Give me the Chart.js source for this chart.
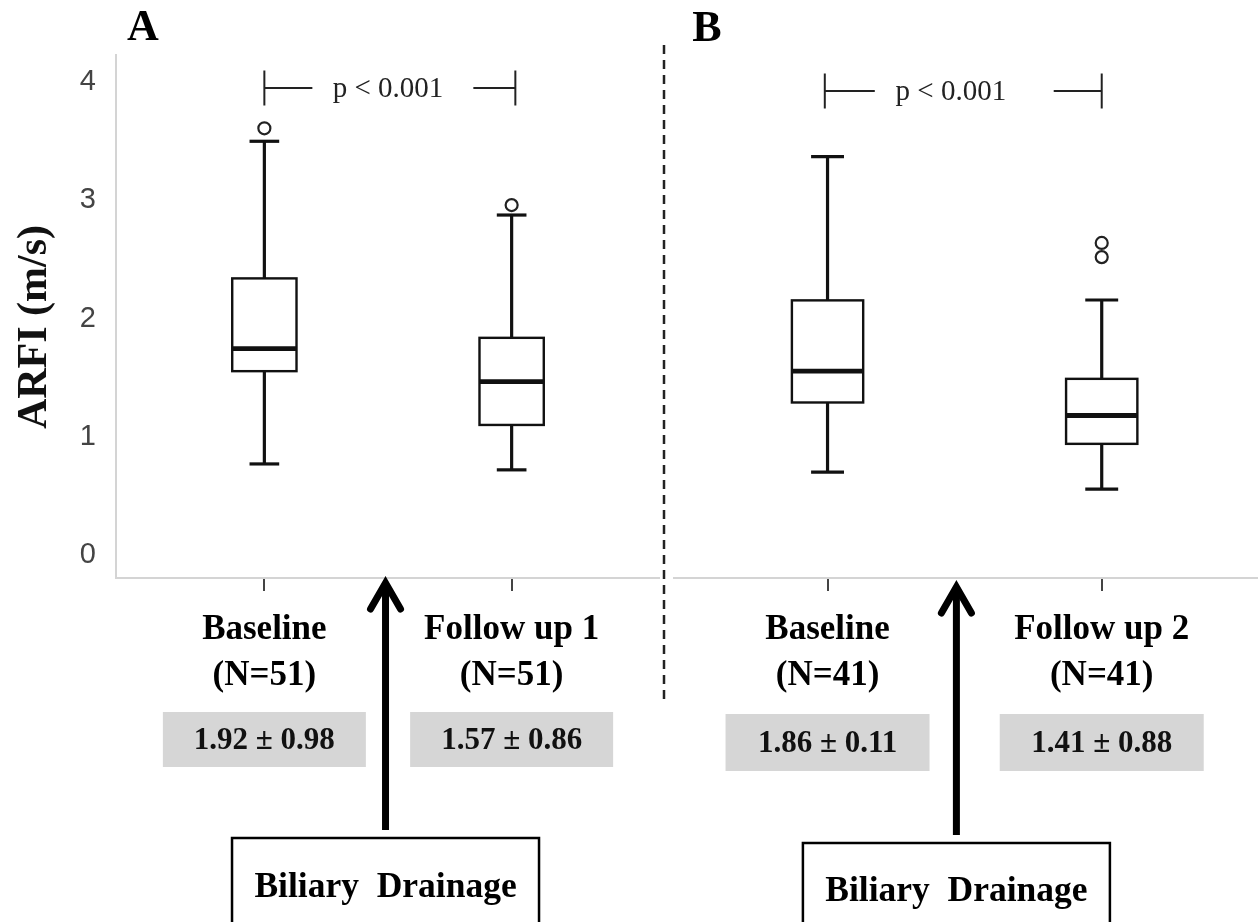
<!DOCTYPE html>
<html>
<head>
<meta charset="utf-8">
<title>ARFI before and after biliary drainage</title>
<script src="https://cdn.jsdelivr.net/npm/chart.js@4.4.1/dist/chart.umd.min.js"></script>
<style>
  html, body { margin: 0; padding: 0; background: #ffffff; }
  #wrap { position: relative; width: 1258px; height: 922px; overflow: hidden; background: #ffffff; }
  #wrap canvas { position: absolute; top: 0; }
  #cA { left: 0; }
  #cB { left: 660px; }
</style>
</head>
<body>
<div id="wrap">
  <canvas id="cA" width="660" height="922"></canvas>
  <canvas id="cB" width="598" height="922"></canvas>
</div>
<script>
// ---- data -------------------------------------------------------------
const tickValues = [0, 1, 2, 3, 4];
const yAxisTitle = 'ARFI (m/s)';
const interventionLabel = 'Biliary  Drainage';

// Panel A: baseline vs first follow-up
const groupsA = ['Baseline', 'Follow up 1'];
const countsA = [51, 51];
const whiskerLowA = [0.77, 0.72];
const q1A = [1.555, 1.10];
const medianA = [1.745, 1.467];
const q3A = [2.34, 1.837];
const whiskerHighA = [3.50, 2.876];
const outliersA = [[3.61], [2.96]];
const meanA = [1.92, 1.57];
const sdA = [0.98, 0.86];
const pLabelA = 'p < 0.001';

// Panel B: baseline vs second follow-up
const groupsB = ['Baseline', 'Follow up 2'];
const countsB = [41, 41];
const whiskerLowB = [0.70, 0.557];
const q1B = [1.29, 0.94];
const medianB = [1.555, 1.18];
const q3B = [2.154, 1.49];
const whiskerHighB = [3.37, 2.157];
const outliersB = [[], [2.64, 2.52]];
const meanB = [1.86, 1.41];
const sdB = [0.11, 0.88];
const pLabelB = 'p < 0.001';

// ---- drawing helpers --------------------------------------------------
const SERIF = '"Liberation Serif", "Times New Roman", serif';
const SANS = '"Liberation Sans", Arial, sans-serif';

function strokeLine(ctx, x1, y1, x2, y2) {
  ctx.beginPath();
  ctx.moveTo(x1, y1);
  ctx.lineTo(x2, y2);
  ctx.stroke();
}

// Boxes, whiskers and medians, placed through the chart's own scales
const boxPlotPlugin = {
  id: 'boxPlot',
  beforeDatasetsDraw(chart, args, opts) {
    const { ctx, scales: { x, y } } = chart;
    const s = opts.stats;
    ctx.save();
    ctx.strokeStyle = '#111';
    s.median.forEach((m, i) => {
      const pos = i + 1;
      const cx = x.getPixelForValue(pos);
      const half = x.getPixelForValue(pos + opts.boxWidth / 2) - cx;
      const capHalf = x.getPixelForValue(pos + opts.capWidth / 2) - cx;
      const pLo = y.getPixelForValue(s.low[i]);
      const pQ1 = y.getPixelForValue(s.q1[i]);
      const pMed = y.getPixelForValue(m);
      const pQ3 = y.getPixelForValue(s.q3[i]);
      const pHi = y.getPixelForValue(s.high[i]);

      ctx.lineCap = 'butt';
      ctx.lineWidth = 3.2;
      strokeLine(ctx, cx, pQ3, cx, pHi);
      strokeLine(ctx, cx, pQ1, cx, pLo);
      strokeLine(ctx, cx - capHalf, pHi, cx + capHalf, pHi);
      strokeLine(ctx, cx - capHalf, pLo, cx + capHalf, pLo);

      ctx.fillStyle = '#ffffff';
      ctx.fillRect(cx - half, pQ3, half * 2, pQ1 - pQ3);
      ctx.lineWidth = 2.4;
      ctx.strokeRect(cx - half, pQ3, half * 2, pQ1 - pQ3);

      ctx.lineWidth = 4.8;
      strokeLine(ctx, cx - half, pMed, cx + half, pMed);
    });
    ctx.restore();
  }
};

// Panel letter, significance bracket, mean ± SD boxes and the drainage marker
const annotationPlugin = {
  id: 'panelNotes',
  afterDraw(chart, args, o) {
    const { ctx, scales: { x } } = chart;
    ctx.save();
    ctx.textAlign = 'center';
    ctx.textBaseline = 'middle';

    // panel letter
    ctx.fillStyle = '#000';
    ctx.font = 'bold 44px ' + SERIF;
    ctx.fillText(o.letter.text, o.letter.x, o.letter.y);

    // separator between panels
    if (o.separator) {
      ctx.strokeStyle = '#222';
      ctx.lineWidth = 2.5;
      ctx.setLineDash([9, 6]);
      strokeLine(ctx, o.separator.x, o.separator.y1, o.separator.x, o.separator.y2);
      ctx.setLineDash([]);
    }

    // significance bracket
    const b = o.bracket;
    const bx1 = x.getPixelForValue(b.from);
    const bx2 = x.getPixelForValue(b.to);
    ctx.strokeStyle = '#222';
    ctx.lineWidth = 2;
    strokeLine(ctx, bx1, b.y - b.tick, bx1, b.y + b.tick);
    strokeLine(ctx, bx2, b.y - b.tick, bx2, b.y + b.tick);
    strokeLine(ctx, bx1, b.y, bx1 + b.armLeft, b.y);
    strokeLine(ctx, bx2 - b.armRight, b.y, bx2, b.y);
    ctx.fillStyle = '#222';
    ctx.font = '29px ' + SERIF;
    ctx.fillText(o.pLabel, x.getPixelForValue(b.textAt), b.y + 1);

    // mean ± SD boxes under each group
    const st = o.statBox;
    o.means.forEach((m, i) => {
      const cx = x.getPixelForValue(i + 1);
      ctx.fillStyle = '#d6d6d6';
      ctx.fillRect(cx - st.width / 2, st.top, st.width, st.height);
      ctx.fillStyle = '#111';
      ctx.font = 'bold 31px ' + SERIF;
      ctx.fillText(m.toFixed(2) + ' \u00B1 ' + o.sds[i].toFixed(2), cx, st.top + st.height / 2 + 1);
    });

    // drainage arrow and label box
    const d = o.drainage;
    const ax = x.getPixelForValue(d.at);
    ctx.strokeStyle = '#000';
    ctx.lineWidth = 7;
    ctx.lineCap = 'butt';
    strokeLine(ctx, ax, d.arrowBottom, ax, d.arrowTip + 6);
    ctx.lineJoin = 'miter';
    ctx.lineCap = 'round';
    ctx.beginPath();
    ctx.moveTo(ax - d.headHalf, d.arrowTip + d.headLen);
    ctx.lineTo(ax, d.arrowTip + 4);
    ctx.lineTo(ax + d.headHalf, d.arrowTip + d.headLen);
    ctx.stroke();

    ctx.lineWidth = 2.5;
    ctx.lineCap = 'butt';
    ctx.strokeRect(ax - d.boxWidth / 2, d.boxTop, d.boxWidth, 120);
    ctx.fillStyle = '#000';
    ctx.font = 'bold 35.5px ' + SERIF;
    ctx.fillText(interventionLabel, ax, d.textY);
    ctx.restore();
  }
};

function makePanel(canvasId, p) {
  const outlierPoints = [];
  p.outliers.forEach((list, i) => list.forEach(v => outlierPoints.push({ x: i + 1, y: v })));

  return new Chart(document.getElementById(canvasId), {
    type: 'scatter',
    data: {
      datasets: [{
        label: 'Outliers',
        data: outlierPoints,
        pointStyle: 'circle',
        pointRadius: 6,
        pointHoverRadius: 6,
        pointBorderWidth: 2.2,
        borderColor: '#222',
        backgroundColor: '#ffffff'
      }]
    },
    options: {
      responsive: false,
      animation: false,
      devicePixelRatio: 1,
      layout: { autoPadding: false, padding: { top: 55, left: p.padLeft, right: 0, bottom: 0 } },
      plugins: {
        legend: { display: false },
        tooltip: { enabled: false },
        boxPlot: {
          boxWidth: 0.26,
          capWidth: 0.12,
          stats: { low: p.low, q1: p.q1, median: p.median, q3: p.q3, high: p.high }
        },
        panelNotes: p.notes
      },
      scales: {
        x: {
          type: 'linear',
          min: p.xMin,
          max: p.xMax,
          afterBuildTicks: s => { s.ticks = p.groups.map((g, i) => ({ value: i + 1 })); },
          afterFit: s => { s.height = 344; },
          ticks: {
            autoSkip: false,
            maxRotation: 0,
            padding: 16,
            color: '#000',
            font: { family: SERIF, size: 35, weight: 'bold', lineHeight: 1.32 },
            callback: v => [p.groups[v - 1], '(N=' + p.counts[v - 1] + ')']
          },
          grid: { display: true, drawOnChartArea: false, drawTicks: true, tickLength: 13, color: '#444', lineWidth: 2 },
          border: { display: true, color: '#d4d4d4', width: 2 }
        },
        y: {
          type: 'linear',
          display: p.showY,
          min: -0.195,
          max: 4.23,
          afterBuildTicks: s => { s.ticks = tickValues.map(v => ({ value: v })); },
          afterFit: s => { s.width = p.showY ? 116 : 0; },
          ticks: {
            padding: 12,
            color: '#444',
            font: { family: SANS, size: 29 }
          },
          grid: { display: false },
          border: { display: true, color: '#d4d4d4', width: 2 },
          title: {
            display: true,
            text: yAxisTitle + '\u2002',
            color: '#111',
            padding: { top: 10, bottom: 0 },
            font: { family: SERIF, size: 42, weight: 'bold', lineHeight: 1.2 }
          }
        }
      }
    },
    plugins: [boxPlotPlugin, annotationPlugin]
  });
}

makePanel('cA', {
  groups: groupsA, counts: countsA,
  low: whiskerLowA, q1: q1A, median: medianA, q3: q3A, high: whiskerHighA,
  outliers: outliersA,
  xMin: 0.4, xMax: 2.6, padLeft: 0, showY: true,
  notes: {
    letter: { text: 'A', x: 143, y: 29 },
    pLabel: pLabelA,
    bracket: { from: 1.0, to: 2.015, y: 88, tick: 17.5, armLeft: 48, armRight: 42, textAt: 1.5 },
    means: meanA, sds: sdA,
    statBox: { width: 203, top: 712, height: 55 },
    drainage: { at: 1.49, arrowTip: 579, arrowBottom: 830, headHalf: 15, headLen: 30, boxWidth: 307, boxTop: 838, textY: 888 }
  }
});

makePanel('cB', {
  groups: groupsB, counts: countsB,
  low: whiskerLowB, q1: q1B, median: medianB, q3: q3B, high: whiskerHighB,
  outliers: outliersB,
  xMin: 0.44, xMax: 2.57, padLeft: 14, showY: false,
  notes: {
    letter: { text: 'B', x: 47, y: 30 },
    separator: { x: 4, y1: 45, y2: 700 },
    pLabel: pLabelB,
    bracket: { from: 0.99, to: 2.0, y: 91, tick: 17.5, armLeft: 50, armRight: 48, textAt: 1.45 },
    means: meanB, sds: sdB,
    statBox: { width: 204, top: 714, height: 57 },
    drainage: { at: 1.47, arrowTip: 583, arrowBottom: 835, headHalf: 15, headLen: 30, boxWidth: 307, boxTop: 843, textY: 892 }
  }
});
</script>
</body>
</html>
